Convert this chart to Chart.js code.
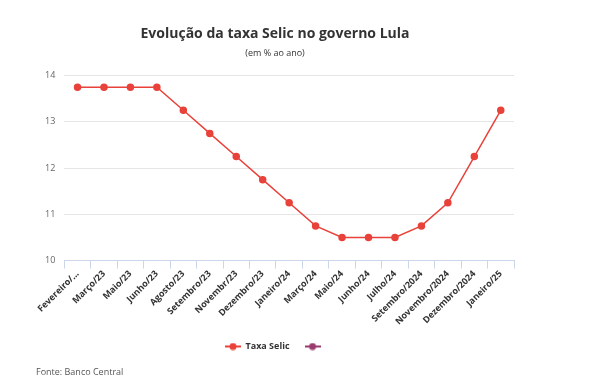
<!DOCTYPE html>
<html>
<head>
<meta charset="utf-8">
<script src="https://cdn.jsdelivr.net/npm/chart.js@4/dist/chart.umd.min.js"></script>
<style>
    html, body { margin: 0; padding: 0; background: #fff; }
    #wrap { position: relative; width: 604px; height: 383px; }
    #fonte { position: absolute; left: 36px; top: 365px; font: 9px 'Open Sans', sans-serif; color: #555; }
</style>
</head>
<body>
<div id="wrap">
    <canvas id="myChart" width="604" height="383"></canvas>
    <div id="fonte">Fonte: Banco Central</div>
</div>
<script>
// Meses (eixo X)
const meses = ['Fevereiro/...', 'Março/23', 'Maio/23', 'Junho/23', 'Agosto/23', 'Setembro/23', 'Novembr/23',
    'Dezembro/23', 'Janeiro/24', 'Março/24', 'Maio/24', 'Junho/24', 'Julho/24', 'Setembro/2024',
    'Novembro/2024', 'Dezembro/2024', 'Janeiro/25'];

// Taxa Selic (% ao ano)
const taxaSelic = [13.75, 13.75, 13.75, 13.75, 13.25, 12.75, 12.25, 11.75, 11.25, 10.75,
    10.5, 10.5, 10.5, 10.75, 11.25, 12.25, 13.25];

// Segunda série sem dados (aparece só na legenda)
const serieVazia = meses.map(() => null);

const yMin = 10;
const yMax = 14;

// Símbolo da legenda: linha com bolinha
function legendSymbol(color) {
    const c = document.createElement('canvas');
    c.width = 16;
    c.height = 8;
    const ctx = c.getContext('2d');
    ctx.strokeStyle = color;
    ctx.lineWidth = 2;
    ctx.beginPath();
    ctx.moveTo(0, 4);
    ctx.lineTo(16, 4);
    ctx.stroke();
    ctx.fillStyle = color;
    ctx.beginPath();
    ctx.arc(8, 4, 3.5, 0, Math.PI * 2);
    ctx.fill();
    return c;
}

const ctx = document.getElementById('myChart').getContext('2d');
const chart = new Chart(ctx, {
    type: 'line',
    data: {
        labels: meses,
        datasets: [{
            label: 'Taxa Selic',
            data: taxaSelic,
            borderColor: '#e8423a',
            backgroundColor: '#e8423a',
            borderWidth: 1.5,
            pointRadius: 3,
            pointHoverRadius: 3.5,
            fill: false,
            tension: 0
        }, {
            label: '',
            data: serieVazia,
            borderColor: '#9b3a6c',
            backgroundColor: '#9b3a6c',
            borderWidth: 1.5,
            pointRadius: 3
        }]
    },
    options: {
        responsive: false,
        animation: false,
        layout: {
            padding: { left: 36, right: 90, top: 10, bottom: 22 }
        },
        plugins: {
            title: {
                display: true,
                text: 'Evolução da taxa Selic no governo Lula',
                color: '#333333',
                font: { family: 'Open Sans', size: 14, weight: 'bold' },
                padding: { top: 16, bottom: 5 }
            },
            subtitle: {
                display: true,
                text: '(em % ao ano)',
                color: '#333333',
                font: { family: 'Open Sans', size: 9 },
                padding: { top: 0, bottom: 17 }
            },
            legend: {
                position: 'bottom',
                labels: {
                    usePointStyle: true,
                    pointStyleWidth: 16,
                    color: '#333333',
                    font: { family: 'Open Sans', size: 9, weight: 'bold' },
                    padding: 15,
                    generateLabels: (c) => {
                        const items = Chart.defaults.plugins.legend.labels.generateLabels(c);
                        items.forEach(item => {
                            const ds = c.data.datasets[item.datasetIndex];
                            item.pointStyle = legendSymbol(ds.borderColor);
                        });
                        return items;
                    }
                }
            },
            tooltip: { enabled: false }
        },
        scales: {
            x: {
                offset: true,
                grid: {
                    display: true,
                    drawOnChartArea: false,
                    drawTicks: true,
                    tickLength: 8,
                    color: '#ccd6eb',
                    offset: true
                },
                border: { display: true, color: '#ccd6eb', width: 1 },
                ticks: {
                    autoSkip: false,
                    minRotation: 45,
                    maxRotation: 45,
                    color: '#333333',
                    padding: 0,
                    font: { family: 'Open Sans', size: 9, weight: 'bold' }
                }
            },
            y: {
                min: yMin,
                max: yMax,
                ticks: {
                    stepSize: 1,
                    color: '#666666',
                    padding: 9,
                    font: { family: 'Open Sans', size: 9 }
                },
                grid: { color: '#e6e6e6', drawTicks: false },
                border: { display: false }
            }
        }
    }
});
</script>
</body>
</html>
